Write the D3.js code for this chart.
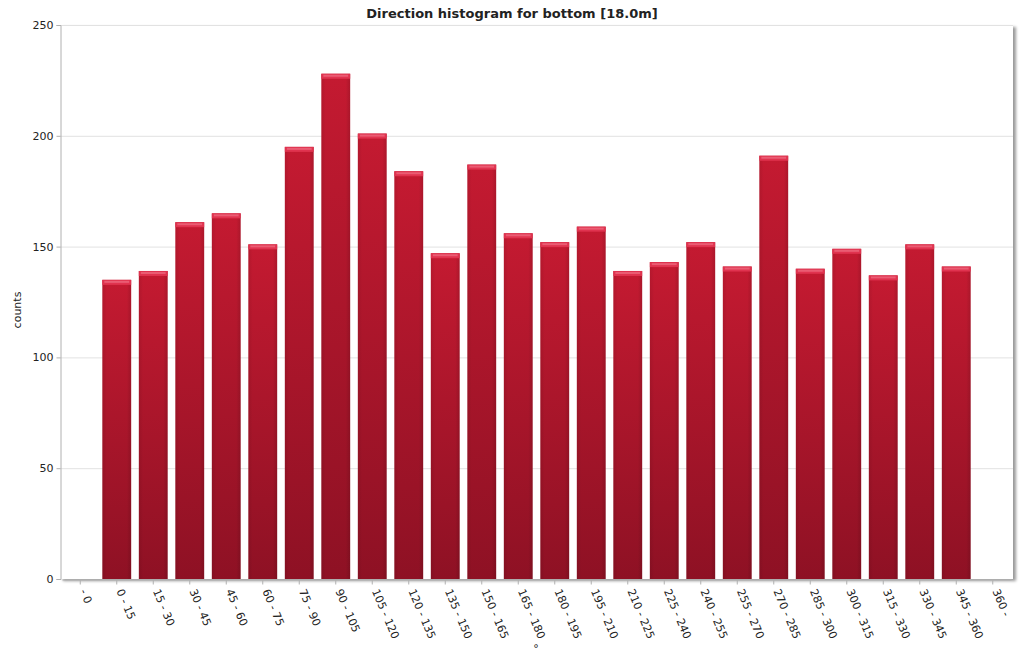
<!DOCTYPE html>
<html><head><meta charset="utf-8">
<script src="https://cdn.jsdelivr.net/npm/d3@7"></script>
<style>body{margin:0;background:#fff;font-family:"DejaVu Sans",Verdana,sans-serif}</style>
</head><body><svg id="c" width="1024" height="670"></svg>
<script>
const categories = ["- 0","0 - 15","15 - 30","30 - 45","45 - 60","60 - 75","75 - 90","90 - 105","105 - 120","120 - 135","135 - 150","150 - 165","165 - 180","180 - 195","195 - 210","210 - 225","225 - 240","240 - 255","255 - 270","270 - 285","285 - 300","300 - 315","315 - 330","330 - 345","345 - 360","360 -"];
const counts = [null,135,139,161,165,151,195,228,201,184,147,187,156,152,159,139,143,152,141,191,140,149,137,151,141,null];
const yTicks = [0,50,100,150,200,250];
const title = "Direction histogram for bottom [18.0m]";

const svg = d3.select("#c");
const L=60,R=1013,T=25,B=579;
const x = d3.scaleBand().domain(categories).range([62,1011]).paddingInner(0.21).paddingOuter(0.105);
const y = d3.scaleLinear().domain([0,250]).range([B,T]);

const defs = svg.append("defs");
const g1 = defs.append("linearGradient").attr("id","bar").attr("x1",0).attr("y1",0).attr("x2",0).attr("y2",1);
g1.append("stop").attr("offset","0%").attr("stop-color","#c41a31");
g1.append("stop").attr("offset","100%").attr("stop-color","#8e1124");
const g2 = defs.append("linearGradient").attr("id","side").attr("x1",0).attr("y1",0).attr("x2",1).attr("y2",0);
g2.append("stop").attr("offset","0%").attr("stop-color","#000").attr("stop-opacity",0.08);
g2.append("stop").attr("offset","15%").attr("stop-color","#000").attr("stop-opacity",0);
g2.append("stop").attr("offset","85%").attr("stop-color","#000").attr("stop-opacity",0);
g2.append("stop").attr("offset","100%").attr("stop-color","#000").attr("stop-opacity",0.12);
const f = defs.append("filter").attr("id","sh").attr("x","-5%").attr("y","-5%").attr("width","110%").attr("height","110%");
f.append("feGaussianBlur").attr("in","SourceAlpha").attr("stdDeviation",1.5);
f.append("feOffset").attr("dx",3).attr("dy",2).attr("result","o");
f.append("feComponentTransfer").append("feFuncA").attr("type","linear").attr("slope",0.4);
const m = f.append("feMerge"); m.append("feMergeNode"); m.append("feMergeNode").attr("in","SourceGraphic");

// plot frame with shadow
svg.append("rect").attr("x",L).attr("y",T).attr("width",R-L).attr("height",B-T)
  .attr("fill","#fff").attr("filter","url(#sh)");

// gridlines
svg.append("g").selectAll("line").data(yTicks.filter(d=>d>0)).join("line")
  .attr("x1",L).attr("x2",R).attr("y1",d=>y(d)+0.5).attr("y2",d=>y(d)+0.5)
  .attr("stroke","#e2e2e2");

// y axis
const ya = svg.append("g").attr("transform",`translate(${L+0.5},0)`)
  .call(d3.axisLeft(y).tickValues(yTicks).tickSize(4).tickPadding(3));
ya.select(".domain").attr("stroke","#b0b0b0");
ya.selectAll(".tick line").attr("stroke","#b0b0b0");
ya.selectAll("text").attr("font-size",11).attr("fill","#222").attr("font-family","DejaVu Sans, Verdana, sans-serif");

// bars
const data = categories.map((c,i)=>({c,v:counts[i]})).filter(d=>d.v!=null);
const bg = svg.append("g");
bg.selectAll("rect.b").data(data).join("rect").attr("class","b")
  .attr("x",d=>x(d.c)).attr("width",x.bandwidth())
  .attr("y",d=>y(d.v)).attr("height",d=>B-y(d.v)).attr("fill","url(#bar)");
bg.selectAll("rect.s").data(data).join("rect").attr("class","s")
  .attr("x",d=>x(d.c)).attr("width",x.bandwidth())
  .attr("y",d=>y(d.v)).attr("height",d=>B-y(d.v)).attr("fill","url(#side)");
bg.selectAll("rect.t").data(data).join("rect").attr("class","t")
  .attr("x",d=>x(d.c)).attr("width",x.bandwidth())
  .attr("y",d=>y(d.v)).attr("height",5).attr("fill","#e0334f");
bg.selectAll("rect.t2").data(data).join("rect").attr("class","t2")
  .attr("x",d=>x(d.c)+2).attr("width",x.bandwidth()-4)
  .attr("y",d=>y(d.v)+1).attr("height",2).attr("fill","#ea5c73");

// x axis
const xa = svg.append("g").attr("transform",`translate(0,${B+0.5})`)
  .call(d3.axisBottom(x).tickSize(5).tickSizeOuter(0));
xa.select(".domain").attr("stroke","#b0b0b0");
xa.selectAll(".tick line").attr("stroke","#b0b0b0");
xa.selectAll("text").attr("font-size",11).attr("fill","#222").attr("font-family","DejaVu Sans, Verdana, sans-serif")
  .attr("text-anchor","start").attr("dy","0.35em")
  .attr("transform","translate(3,10) rotate(67)").attr("x",0).attr("y",0);

// title
svg.append("text").attr("x",512).attr("y",18).attr("text-anchor","middle")
  .attr("font-size",13).attr("font-weight","bold").attr("fill","#222").text(title);
svg.append("text").attr("transform","translate(21,310) rotate(-90)").attr("text-anchor","middle")
  .attr("font-size",11).attr("fill","#222").text("counts");
svg.append("text").attr("x",536).attr("y",652).attr("text-anchor","middle")
  .attr("font-size",11).attr("fill","#222").text("°");
</script></body></html>
